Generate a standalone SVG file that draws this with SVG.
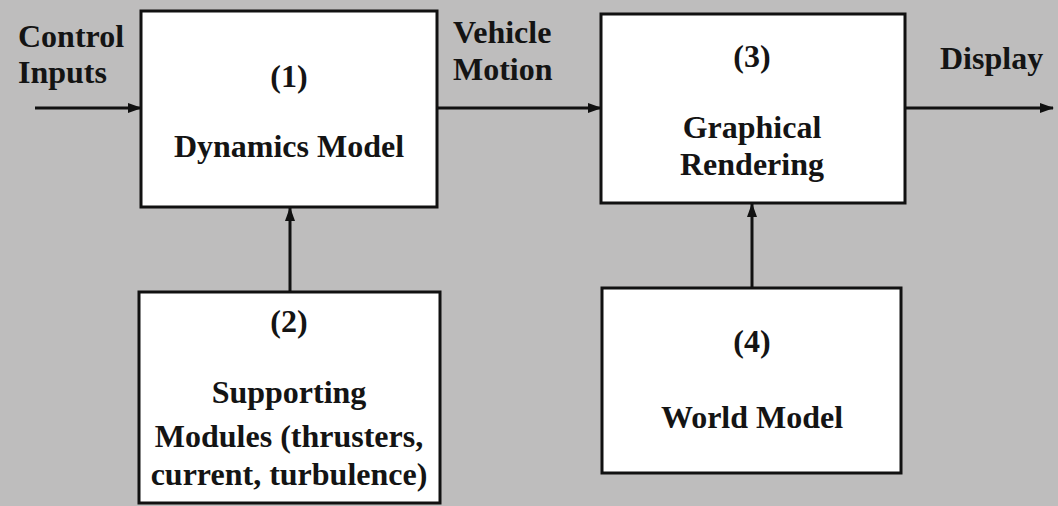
<svg xmlns="http://www.w3.org/2000/svg" width="1058" height="506" viewBox="0 0 1058 506">
<style>
.box{fill:#ffffff;stroke:#111111;stroke-width:3}
.lbl{font-family:"Liberation Serif","Times New Roman",serif;font-weight:bold;font-size:32px;fill:#141414}
.c{text-anchor:middle}
.edge{stroke:#111111;stroke-width:3;fill:none;marker-end:url(#ah)}
</style>
<defs>
<marker id="ah" viewBox="0 0 14 10" refX="13" refY="5" markerWidth="14" markerHeight="10" markerUnits="userSpaceOnUse" orient="auto">
<path d="M0,0 L14,5 L0,10 Z" fill="#111111"/>
</marker>
</defs>
<rect x="0" y="0" width="1058" height="506" fill="#bebdbd"/>
<g id="connectors">
<line class="edge" x1="35" y1="108" x2="141" y2="108"/>
<line class="edge" x1="437" y1="108" x2="601" y2="108"/>
<line class="edge" x1="905" y1="108" x2="1053" y2="108"/>
<line class="edge" x1="290" y1="292" x2="290" y2="208"/>
<line class="edge" x1="752" y1="288" x2="752" y2="204"/>
</g>
<g id="labels">
<text class="lbl" x="18" y="47">Control</text>
<text class="lbl" x="18" y="83">Inputs</text>
<text class="lbl" x="453" y="43">Vehicle</text>
<text class="lbl" x="453" y="80">Motion</text>
<text class="lbl" x="940" y="69">Display</text>
</g>
<g id="node1">
<rect class="box" x="141" y="11" width="296" height="196"/>
<text class="lbl c" x="289" y="87">(1)</text>
<text class="lbl c" x="289" y="157">Dynamics Model</text>
</g>
<g id="node2">
<rect class="box" x="139" y="292" width="301" height="211"/>
<text class="lbl c" x="289" y="332">(2)</text>
<text class="lbl c" x="289" y="403">Supporting</text>
<text class="lbl c" x="289" y="447">Modules (thrusters,</text>
<text class="lbl c" x="289" y="485">current, turbulence)</text>
</g>
<g id="node3">
<rect class="box" x="601" y="14" width="304" height="189"/>
<text class="lbl c" x="752" y="67">(3)</text>
<text class="lbl c" x="752" y="138">Graphical</text>
<text class="lbl c" x="752" y="175">Rendering</text>
</g>
<g id="node4">
<rect class="box" x="602" y="288" width="299" height="185"/>
<text class="lbl c" x="752" y="352">(4)</text>
<text class="lbl c" x="752" y="428">World Model</text>
</g>
</svg>
